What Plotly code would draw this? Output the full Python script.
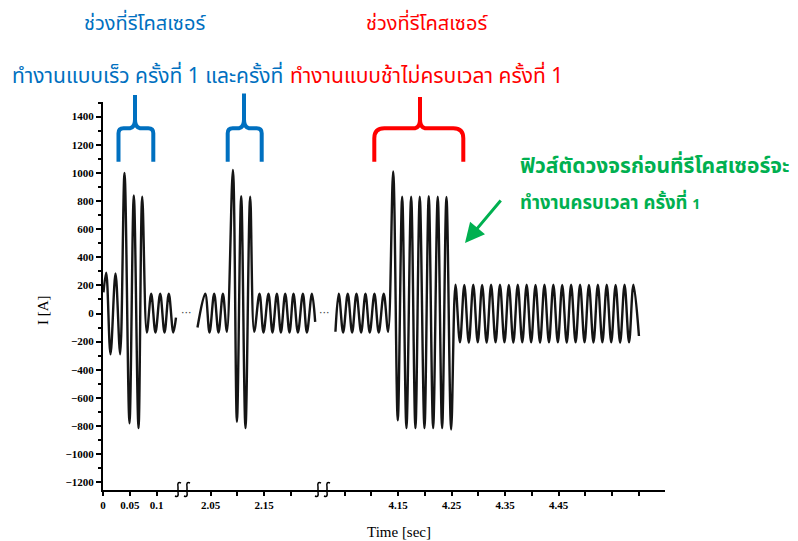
import plotly.graph_objects as go

# ---------------- data ----------------
# segment 1: first fast recloser operation (time [s], current [A] at extrema)
t_seg1 = [0.0009, 0.0060, 0.0140, 0.0234, 0.0321, 0.0402, 0.0495, 0.0576, 0.0664,
          0.0733, 0.0819, 0.0901, 0.0981, 0.1069, 0.1150, 0.1230, 0.1314, 0.1364]
i_seg1 = [150, 290, -290, 285, -290, 1000, -780, 840, -815,
          830, -135, 140, -135, 140, -135, 140, -135, -30]

# segment 2: second fast recloser operation
t_seg2 = [2.0253, 2.0397, 2.0478, 2.0565, 2.0646, 2.0728, 2.0803, 2.0915, 2.0990,
          2.1070, 2.1150, 2.1238, 2.1313, 2.1412, 2.1487, 2.1580, 2.1655, 2.1737,
          2.1812, 2.1893, 2.1973, 2.2048, 2.2130, 2.2223, 2.2298, 2.2392, 2.2453]
i_seg2 = [-100, 140, -135, 140, -135, 140, -130, 1020, -770,
          835, -815, 830, -130, 140, -135, 140, -135, 140,
          -135, 140, -135, 140, -135, 140, -135, 140, -60]

# segment 3: slow recloser operation interrupted by the fuse
t_seg3 = [4.0327, 4.0389, 4.0471, 4.0557, 4.0639, 4.0720, 4.0807, 4.0888, 4.0968,
          4.1056, 4.1136, 4.1230, 4.1312, 4.1406, 4.1492, 4.1574, 4.1654, 4.1742,
          4.1822, 4.1903, 4.1991, 4.2071, 4.2153, 4.2239, 4.2321, 4.2402, 4.2490,
          4.2570, 4.2654, 4.2736, 4.2820, 4.2903, 4.2987, 4.3069, 4.3153, 4.3236,
          4.3320, 4.3402, 4.3486, 4.3568, 4.3652, 4.3735, 4.3819, 4.3901, 4.3985,
          4.4067, 4.4151, 4.4234, 4.4318, 4.4400, 4.4484, 4.4566, 4.4650, 4.4732,
          4.4816, 4.4899, 4.4983, 4.5065, 4.5150, 4.5232, 4.5316, 4.5398, 4.5482,
          4.5564, 4.5648, 4.5731, 4.5815, 4.5897, 4.6000]
i_seg3 = [-130, 140, -135, 140, -135, 140, -135, 140, -135,
          140, -135, 140, -130, 1010, -760, 830, -815, 830,
          -815, 830, -815, 835, -815, 830, -815, 828, -825,
          205, -205, 203, -207, 205, -205, 203, -207, 205,
          -205, 205, -205, 203, -207, 205, -205, 205, -205,
          203, -207, 205, -205, 205, -205, 203, -207, 205,
          -205, 205, -205, 203, -207, 205, -205, 205, -205,
          203, -207, 205, -205, 205, -160]

# tick labels
x1_ticks = [0, 0.05, 0.1]
x1_text = ["0", "0.05", "0.1"]
x2_ticks = [2.05, 2.1, 2.15, 2.2]
x2_text = ["2.05", "", "2.15", ""]
x3_ticks = [4.05, 4.1, 4.15, 4.2, 4.25, 4.3, 4.35, 4.4, 4.45, 4.5, 4.55, 4.6]
x3_text = ["", "", "4.15", "", "4.25", "", "4.35", "", "4.45", "", "", ""]
y_ticks = [-1200, -1000, -800, -600, -400, -200, 0, 200, 400, 600, 800, 1000, 1200, 1400]

# ---------------- layout geometry ----------------
OFF = 8                      # page body margin of the html file
W, H = 798 - OFF, 541 - OFF
ML, MR, MT, MB = 95, 133, 94, 51
PW, PH = W - ML - MR, H - MT - MB


def px(x):                   # screen x -> paper
    return (x - OFF - ML) / PW


def py(y):                   # screen y -> paper
    return (H - MB - (y - OFF)) / PH


d1, d2 = px(183), px(323)
TICKFONT = dict(family="Liberation Serif", size=11, color="black", weight="bold")
THAI = "Tahoma, 'Noto Sans Thai', 'Noto Sans', sans-serif"
BLUE, RED, GREEN = "#0070C0", "#FF0000", "#00B050"

fig = go.Figure()
line = dict(color="#151515", width=2.4, shape="spline", smoothing=1)
fig.add_trace(go.Scatter(x=t_seg1, y=i_seg1, mode="lines", line=line, xaxis="x", yaxis="y",
                         showlegend=False, hoverinfo="skip"))
fig.add_trace(go.Scatter(x=t_seg2, y=i_seg2, mode="lines", line=line, xaxis="x2", yaxis="y",
                         showlegend=False, hoverinfo="skip"))
fig.add_trace(go.Scatter(x=t_seg3, y=i_seg3, mode="lines", line=line, xaxis="x3", yaxis="y",
                         showlegend=False, hoverinfo="skip"))

xcommon = dict(showline=True, linecolor="black", linewidth=2, showgrid=False, zeroline=False,
               ticks="outside", ticklen=4, tickwidth=2, tickcolor="black", tickfont=TICKFONT,
               anchor="y", fixedrange=True)
fig.update_layout(
    width=W, height=H,
    margin=dict(l=ML, r=MR, t=MT, b=MB, autoexpand=False),
    paper_bgcolor="white", plot_bgcolor="white",
    xaxis=dict(domain=[0, d1], range=[0, 80 / 535], tickmode="array",
               tickvals=x1_ticks, ticktext=x1_text, **xcommon),
    xaxis2=dict(domain=[d1, d2], range=[1.99822, 2.25991], tickmode="array",
                tickvals=x2_ticks, ticktext=x2_text, **xcommon),
    xaxis3=dict(domain=[d2, 1], range=[4.00944, 4.64869], tickmode="array",
                tickvals=x3_ticks, ticktext=x3_text, **xcommon),
    yaxis=dict(range=[-1255, 1504], tickmode="array", tickvals=y_ticks,
               showline=True, linecolor="black", linewidth=2, showgrid=False, zeroline=False,
               ticks="outside", ticklen=5, tickwidth=2, tickcolor="black", tickfont=TICKFONT,
               minor=dict(dtick=100, ticks="outside", ticklen=3, tickwidth=1.5, tickcolor="black"),
               fixedrange=True),
)


def note(text, x, y, size, color, family=THAI, xanchor="center", angle=0):
    return dict(text=text, x=px(x), y=py(y), xref="paper", yref="paper", showarrow=False,
                xanchor=xanchor, yanchor="middle", textangle=angle,
                font=dict(family=family, size=size, color=color))


ann = [
    note("I [A]", 43, 310, 15, "black", family="Liberation Serif", angle=-90),
    note("Time [sec]", 399, 532, 15, "black", family="Liberation Serif"),
    note("···", 186.7, 312, 11, "#444", family="DejaVu Sans"),
    note("···", 324.7, 312, 11, "#444", family="DejaVu Sans"),
    note("ช่วงที่รีโคสเซอร์", 145, 24, 20, BLUE),
    note("ทำงานแบบเร็ว ครั้งที่ 1 และครั้งที่", 10, 76, 21, BLUE, xanchor="left"),
    note("ช่วงที่รีโคสเซอร์", 427, 24, 20, RED),
    note("ทำงานแบบช้าไม่ครบเวลา ครั้งที่ 1", 288, 76, 21, RED, xanchor="left"),
    note("<b>ฟิวส์ตัดวงจรก่อนที่รีโคสเซอร์จะ</b>", 518, 166, 21, GREEN, xanchor="left"),
    note("<b>ทำงานครบเวลา ครั้งที่ </b><span style='font-size:14px'><b>1</b></span>",
         518, 203, 18.5, GREEN, xanchor="left"),
    # green arrow
    dict(text="", x=px(465), y=py(243), xref="paper", yref="paper", showarrow=True,
         ax=37, ay=-44, arrowhead=2, arrowsize=1.3, arrowwidth=3, arrowcolor=GREEN),
]
fig.update_layout(annotations=ann)


# braces and axis-break marks (decorations in pixel geometry)
def P(x, y):
    return f"{px(x):.5f},{py(y):.5f}"


def brace(x0, x1, xc, yh, ytop, ybot, r):
    return (f"M {P(x0, ybot)} L {P(x0, yh + r)} Q {P(x0, yh)} {P(x0 + r, yh)} "
            f"L {P(xc - 5, yh)} Q {P(xc, yh - 1)} {P(xc, yh - 9)} L {P(xc, ytop)} "
            f"M {P(xc, yh - 9)} Q {P(xc, yh - 1)} {P(xc + 5, yh)} "
            f"L {P(x1 - r, yh)} Q {P(x1, yh)} {P(x1, yh + r)} L {P(x1, ybot)}")


shapes = []
for (x0, x1, xc, ytop, r, col) in [(118.5, 153.3, 135, 95, 5, BLUE),
                                   (227.7, 261.7, 244, 93.5, 5, BLUE),
                                   (374.3, 463.3, 420, 97, 10, RED)]:
    shapes.append(dict(type="path", xref="paper", yref="paper",
                       path=brace(x0, x1, xc, 128.3, ytop, 161.7, r),
                       line=dict(color=col, width=4)))
LY = 490
for cb in (183, 323):
    for c in (cb - 5, cb + 4):
        shapes.append(dict(type="path", xref="paper", yref="paper",
                           path=(f"M {P(c + 3, LY - 7)} Q {P(c - 1, LY - 9)} {P(c, LY - 3)} "
                                 f"L {P(c, LY + 2)} Q {P(c + 1, LY + 8)} {P(c - 3, LY + 6)}"),
                           line=dict(color="black", width=1.5)))
fig.update_layout(shapes=shapes)

fig.write_html("out.html")
